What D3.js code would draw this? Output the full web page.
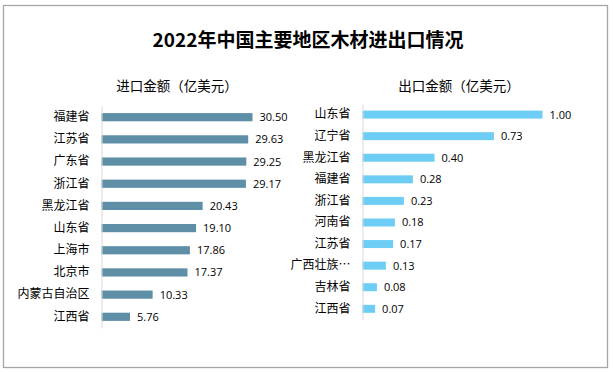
<!DOCTYPE html>
<html lang="zh">
<head>
  <meta charset="UTF-8" />
  <title>2022年中国主要地区木材进出口情况</title>
  <style>
    body { margin: 0; background: #fff; }
    svg text { font-family: "Noto Sans CJK SC", "Noto Sans", sans-serif; fill: #000; }
    .val { font-family: "Open Sans", "Noto Sans", sans-serif; font-size: 11px; }
  </style>
</head>
<body>
  <div id="chart"></div>
  <script src="https://cdn.jsdelivr.net/npm/d3@7"></script>
  <script>
    const title = "2022年中国主要地区木材进出口情况";

    const importTitle = "进口金额（亿美元）";
    const importRegions = ["福建省", "江苏省", "广东省", "浙江省", "黑龙江省", "山东省", "上海市", "北京市", "内蒙古自治区", "江西省"];
    const importValues = [30.50, 29.63, 29.25, 29.17, 20.43, 19.10, 17.86, 17.37, 10.33, 5.76];

    const exportTitle = "出口金额（亿美元）";
    const exportRegions = ["山东省", "辽宁省", "黑龙江省", "福建省", "浙江省", "河南省", "江苏省", "广西壮族自治区", "吉林省", "江西省"];
    const exportValues = [1.00, 0.73, 0.40, 0.28, 0.23, 0.18, 0.17, 0.13, 0.08, 0.07];

    const W = 613, H = 372;
    const svg = d3.select("#chart").append("svg")
      .attr("width", W).attr("height", H);

    // outer frame
    svg.append("rect")
      .attr("x", 3.5).attr("y", 5.5)
      .attr("width", 604).attr("height", 362)
      .attr("fill", "#fff").attr("stroke", "#a6a6a6").attr("stroke-width", 1.3);

    svg.append("text")
      .attr("x", 308).attr("y", 47)
      .attr("text-anchor", "middle")
      .style("font-size", "19px").style("font-weight", "bold")
      .text(title);

    // one horizontal bar panel
    function panel(opts) {
      const { names, values, color, axisX, maxVal, maxW, y0, step, heading, headX, maxChars } = opts;
      const g = svg.append("g");

      const y = d3.scaleBand()
        .domain(names)
        .range([y0, y0 + step * names.length])
        .paddingInner(0.63).paddingOuter(0.32);
      const x = d3.scaleLinear().domain([0, maxVal]).range([axisX, axisX + maxW]);

      g.append("text")
        .attr("x", headX).attr("y", 91)
        .attr("text-anchor", "middle")
        .style("font-size", "13.5px")
        .text(heading);

      g.selectAll("rect.bar")
        .data(values)
        .join("rect")
        .attr("class", "bar")
        .attr("x", x(0))
        .attr("y", (d, i) => y(names[i]))
        .attr("width", d => x(d) - x(0))
        .attr("height", y.bandwidth())
        .attr("fill", color);

      g.selectAll("text.val")
        .data(values)
        .join("text")
        .attr("class", "val")
        .attr("x", d => x(d) + 7)
        .attr("y", (d, i) => y(names[i]) + y.bandwidth() / 2)
        .attr("dy", "0.36em")
        .text(d => d3.format(".2f")(d));

      // category axis
      const axis = g.append("g")
        .attr("transform", `translate(${axisX},0)`)
        .call(d3.axisLeft(y).tickSize(0).tickPadding(12)
          .tickFormat(n => n.length > maxChars ? n.slice(0, maxChars - 1) + "…" : n));
      axis.select(".domain").attr("stroke", "#d9d9d9").attr("stroke-width", 1);
      axis.selectAll("text")
        .style("font-size", "12px")
        .style("font-family", '"Noto Sans CJK SC", sans-serif')
        .attr("fill", "#000");
    }

    panel({
      names: importRegions, values: importValues, color: "#5e8fa6",
      axisX: 101.5, maxVal: 30.5, maxW: 151, y0: 106, step: 22.2,
      heading: importTitle, headX: 177, maxChars: 8
    });

    panel({
      names: exportRegions, values: exportValues, color: "#6dcdf5",
      axisX: 362.5, maxVal: 1.0, maxW: 180, y0: 103.7, step: 21.6,
      heading: exportTitle, headX: 459, maxChars: 5
    });
  </script>
</body>
</html>
